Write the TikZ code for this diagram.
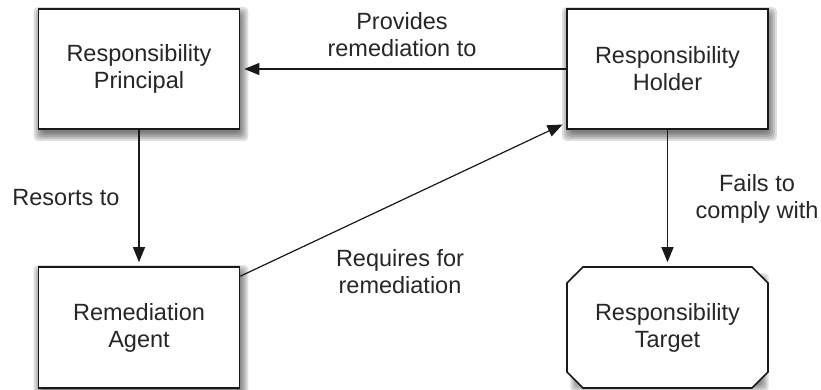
\documentclass[tikz,border=0pt]{standalone}
\usepackage{fontspec}
\setmainfont{Liberation Sans}
\usetikzlibrary{arrows.meta,shapes.misc}
\pgfdeclarelayer{background}
\pgfsetlayers{background,main}
\begin{document}
\begin{tikzpicture}[x=1pt,y=1pt,
  txt/.style={font=\fontsize{23.5}{27}\selectfont, text=black!85, align=center},
  box/.style={txt, draw=black!90, line width=1.6pt, fill=white, minimum width=201pt, minimum height=120pt, inner sep=0pt},
  octbox/.style={box, chamfered rectangle, chamfered rectangle xsep=8pt, chamfered rectangle ysep=8pt},
  conn/.style={line width=1.2pt, draw=black!90, -{Triangle[length=15pt,width=12pt]}, shorten >=4pt},
  lbl/.style={txt, inner sep=0pt},
  shadowlayer/.style={fill=black, opacity=0.13, rounded corners=4pt}]
\useasboundingbox (0,0) rectangle (821,390);
\node[box] (P) at (139,321) {Responsibility\\Principal};
\node[box] (H) at (667.5,321) {Responsibility\\Holder};
\node[box, minimum height=121pt] (A) at (139,62.5) {Remediation\\Agent};
\node[octbox, minimum height=121pt] (T) at (667.5,62.5) {Responsibility\\Target};
\begin{pgfonlayer}{background}
  \foreach \n in {P,H,A,T}{
    \foreach \i in {-2,0,2,4,6}{
      \fill[shadowlayer] ([shift={(2-\i,-5-\i)}]\n.south west) rectangle ([shift={(2+\i,-5+\i)}]\n.north east);
    }
  }
\end{pgfonlayer}
\draw[conn] (H.west) -- (P.east);
\draw[conn] (P.south) -- (A.north);
\draw[conn] (H.south) -- (T.north);
\draw[conn] ([yshift=-10pt]A.north east) -- ([yshift=7pt]H.south west);
\node[lbl] (l1) at (402,355) {Provides\\remediation to};
\node[lbl] (l2) at (66,192) {Resorts to};
\node[lbl] (l3) at (757,191) {Fails to\\comply with};
\node[lbl] (l4) at (400,118) {Requires for\\remediation};
\end{tikzpicture}
\end{document}
